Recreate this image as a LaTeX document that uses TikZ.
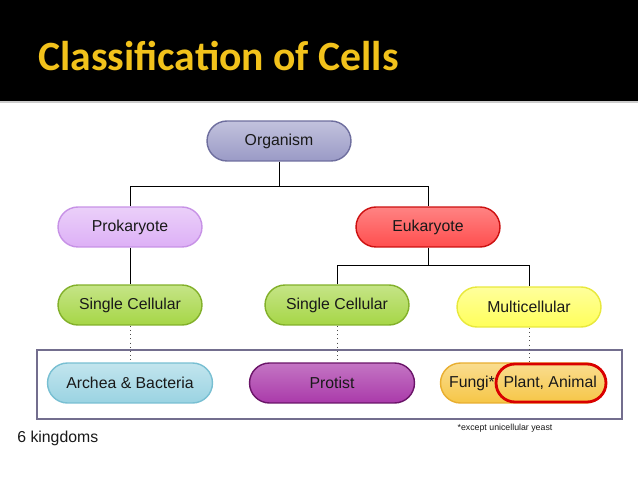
\documentclass[tikz,border=0pt]{standalone}
\usepackage{fontspec}
\setmainfont{Liberation Sans}
\newfontfamily\titlefont{Carlito}
\usetikzlibrary{positioning}

\definecolor{titleyellow}{HTML}{F2C21B}
\definecolor{orgfill}{HTML}{9A9AC6}
\definecolor{orgline}{HTML}{6E6E9E}
\definecolor{prokfill}{HTML}{DDB0F6}
\definecolor{prokline}{HTML}{C792E6}
\definecolor{eukfill}{HTML}{FF4E4E}
\definecolor{eukline}{HTML}{CC1010}
\definecolor{greenfill}{HTML}{A6D646}
\definecolor{greenline}{HTML}{82B02A}
\definecolor{yellowfill}{HTML}{FFFF5A}
\definecolor{yellowline}{HTML}{E8E83C}
\definecolor{cyanfill}{HTML}{9AD3E2}
\definecolor{cyanline}{HTML}{78BFD2}
\definecolor{protfill}{HTML}{AA3AAA}
\definecolor{protline}{HTML}{6A1468}
\definecolor{fungfill}{HTML}{F6C646}
\definecolor{fungline}{HTML}{E8AE30}
\definecolor{framecol}{HTML}{736E8E}

\begin{document}
\begin{tikzpicture}[
    x=0.02cm, y=-0.02cm,
    every node/.style={font=\fontsize{9}{11}\selectfont, text=black!90},
    pill/.style={draw, line width=0.8pt, rounded corners=0.4cm, minimum width=2.88cm, minimum height=0.8cm, inner sep=0pt},
    wide/.style={pill, minimum width=3.3cm},
    tree/.style={line width=0.5pt, black},
    dots/.style={line width=0.4pt, black!70, dotted}
]
\useasboundingbox (0,0) rectangle (638,479);
% banner
\fill[black] (0,0) rectangle (638,101);
\fill[black!20] (0,101) rectangle (638,103);
\node[anchor=base west, inner sep=0pt, font=\titlefont\bfseries\fontsize{23.7}{28}\selectfont, text=titleyellow] (title) at (38,71) {Classification of Cells};

% tree
\node[pill, draw=orgline, top color=orgfill!60, bottom color=orgfill] (org) at (279,141) {Organism};
\node[pill, draw=prokline, top color=prokfill!60, bottom color=prokfill] (prok) at (130,227) {Prokaryote};
\node[pill, draw=eukline, top color=eukfill!70, bottom color=eukfill] (euk) at (428,227) {Eukaryote};
\node[pill, draw=greenline, top color=greenfill!65, bottom color=greenfill] (single1) at (130,305) {Single Cellular};
\node[pill, draw=greenline, top color=greenfill!65, bottom color=greenfill] (single2) at (337,305) {Single Cellular};
\node[pill, draw=yellowline, top color=yellowfill!60, bottom color=yellowfill] (multi) at (529,307) {Multicellular};

% kingdoms
\draw[framecol, line width=1.2pt] (37,350) rectangle (622,419);
\node[wide, draw=cyanline, top color=cyanfill!60, bottom color=cyanfill] (archea) at (130,383) {Archea \& Bacteria};
\node[wide, draw=protline, top color=protfill!70, bottom color=protfill] (protist) at (332,383) {Protist};
\node[wide, draw=fungline, top color=fungfill!60, bottom color=fungfill] (fungi) at (523,383) {Fungi*, Plant, Animal};
\node[draw=red!85!black, line width=1.6pt, rounded corners=0.38cm, minimum width=2.2cm, minimum height=0.76cm] (plant) at (551,383) {};

% connectors
\draw[tree] (org.south) -- ++(0,25) coordinate (orgsplit);
\draw[tree] (prok.north) |- (orgsplit) -| (euk.north);
\draw[tree] (euk.south) -- ++(0,18) coordinate (euksplit);
\draw[tree] (single2.north) |- (euksplit) -| (multi.north);
\draw[tree] (prok) -- (single1);
\draw[dots] (single1) -- (archea);
\draw[dots] (single2.south) -- (single2.south |- protist.north);
\draw[dots] (multi.south) -- (multi.south |- fungi.north);

% notes
\node[font=\fontsize{5}{6}\selectfont] (yeast) at (505,428) {*except unicellular yeast};
\node[anchor=west, inner sep=0pt] (kingdoms) at (17,438) {6 kingdoms};
\end{tikzpicture}
\end{document}
